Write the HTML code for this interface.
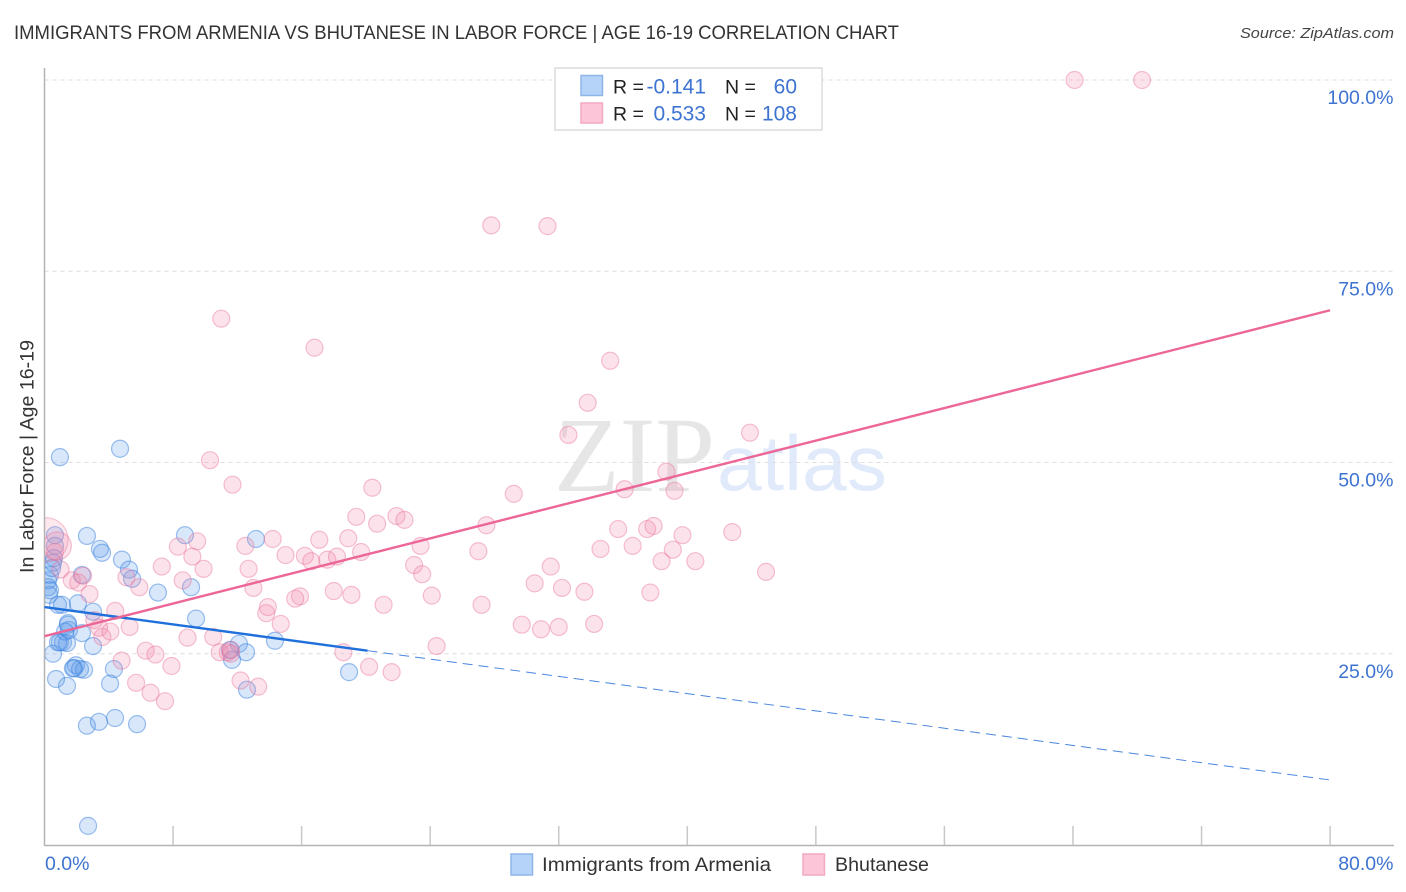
<!DOCTYPE html>
<html lang="en">
<head>
<meta charset="utf-8">
<title>Immigrants from Armenia vs Bhutanese in Labor Force | Age 16-19 Correlation Chart</title>
<style>
html,body{margin:0;padding:0;background:#fff;width:1406px;height:892px;overflow:hidden}
svg{display:block;font-family:"Liberation Sans",sans-serif}
</style>
</head>
<body>
<svg id="chart" xmlns="http://www.w3.org/2000/svg" width="1406" height="892" viewBox="0 0 1406 892">
  <defs><clipPath id="plot-clip"><rect x="45" y="60" width="1350" height="785"/></clipPath></defs>
  <rect x="0" y="0" width="1406" height="892" fill="#fff"/>
  <text x="14" y="39" font-size="19.5" fill="#333" textLength="885" lengthAdjust="spacingAndGlyphs">IMMIGRANTS FROM ARMENIA VS BHUTANESE IN LABOR FORCE | AGE 16-19 CORRELATION CHART</text>
  <text x="1394" y="38" font-size="15" font-style="italic" fill="#444" text-anchor="end" textLength="154" lengthAdjust="spacingAndGlyphs">Source: ZipAtlas.com</text>
  <g>
    <text x="554" y="491" font-family="'Liberation Serif',serif" font-size="107" fill="#e6e6e6" textLength="161" lengthAdjust="spacingAndGlyphs">ZIP</text>
    <text x="717" y="490" font-size="78" fill="#e0eafa" textLength="170" lengthAdjust="spacingAndGlyphs">atlas</text>
  </g>
  <g id="grid"></g>
  <g id="axes"></g>
  <g id="armenia-points" clip-path="url(#plot-clip)"></g>
  <g id="bhutanese-points" clip-path="url(#plot-clip)"></g>
  <g id="trends"></g>
  <g id="ticklabels"></g>
  <g>
    <rect x="555" y="68" width="267" height="62" fill="#fff" stroke="#dcdcdc" stroke-width="1.5"/>
    <rect x="581" y="75.5" width="21.5" height="20" fill="#b5d2f8" stroke="#8fb5e8" stroke-width="1.5"/>
    <rect x="581" y="103" width="21.5" height="20" fill="#fcc5d8" stroke="#f2a9c2" stroke-width="1.5"/>
    <text x="613" y="93.5" font-size="19.5" fill="#222">R =</text>
    <text x="706" y="93.5" font-size="21" fill="#3d73d1" text-anchor="end">-0.141</text>
    <text x="725" y="93.5" font-size="19.5" fill="#222">N =</text>
    <text x="797" y="93.5" font-size="21" fill="#3d73d1" text-anchor="end">60</text>
    <text x="613" y="120.5" font-size="19.5" fill="#222">R =</text>
    <text x="706" y="120.5" font-size="21" fill="#3d73d1" text-anchor="end">0.533</text>
    <text x="725" y="120.5" font-size="19.5" fill="#222">N =</text>
    <text x="797" y="120.5" font-size="21" fill="#3d73d1" text-anchor="end">108</text>
  </g>
  <g>
    <rect x="511" y="854" width="21.5" height="21" fill="#b5d2f8" stroke="#8fb5e8" stroke-width="1.5"/>
    <text x="542" y="871" font-size="19.5" fill="#333" textLength="229" lengthAdjust="spacingAndGlyphs">Immigrants from Armenia</text>
    <rect x="803" y="854" width="21.5" height="21" fill="#fcc5d8" stroke="#f2a9c2" stroke-width="1.5"/>
    <text x="835" y="871" font-size="19.5" fill="#333" textLength="94" lengthAdjust="spacingAndGlyphs">Bhutanese</text>
  </g>
  <text transform="translate(33.5 456.5) rotate(-90)" font-size="19.5" fill="#333" text-anchor="middle" textLength="233" lengthAdjust="spacingAndGlyphs">In Labor Force | Age 16-19</text>
</svg>
<script>
const armeniaX = [0.96,4.70,2.64,8.74,13.16,3.45,3.58,4.82,5.26,5.45,7.06,9.12,9.43,14.34,2.33,2.08,3.02,1.09,1.46,1.52,2.33,1.15,1.40,0.96,3.02,0.53,1.96,1.84,2.21,2.46,4.32,0.72,1.40,4.08,2.64,3.39,4.39,5.76,2.71,12.1,11.54,12.54,11.67,12.6,18.95,0.65,0.65,0.59,0.53,0.34,0.22,0.22,0.28,0.84,1.46,1.28,0.84,1.77,0.47,0.34];
const armeniaY = [50.7,51.8,40.4,40.5,40.0,38.7,38.2,37.3,36.0,34.8,33.0,33.7,29.6,26.7,35.3,31.6,30.5,31.4,29.0,28.1,27.7,26.5,26.4,26.5,26.0,25.0,23.5,23.1,23.0,22.9,23.0,21.7,20.8,21.1,15.6,16.1,16.6,15.8,2.5,26.3,25.5,25.2,24.2,20.3,22.6,40.5,39.1,37.5,36.9,35.3,34.6,33.7,32.7,31.4,28.8,27.9,26.5,23.1,36.2,33.3];
const bhutaneseX = [64.1,68.3,27.8,31.3,11.0,16.8,35.2,33.8,32.6,43.9,10.3,11.7,20.4,29.2,36.1,38.7,39.2,19.4,21.9,22.4,20.7,27.5,35.7,37.5,37.9,42.8,39.7,14.2,17.1,18.9,9.5,8.3,12.5,23.4,27.0,34.6,36.6,39.1,38.4,40.5,15.0,16.2,16.6,17.6,18.2,19.7,9.2,9.9,7.3,12.7,23.0,23.5,31.5,8.6,5.1,5.9,13.0,15.9,15.6,18.0,19.1,24.1,30.5,32.2,33.6,37.7,44.9,21.1,27.2,13.9,13.8,14.7,4.4,29.7,30.9,32.0,34.2,8.9,10.5,24.4,18.6,6.3,6.9,7.9,4.8,10.9,11.4,20.2,21.6,12.2,13.3,5.7,6.6,7.5,11.6,11.6,0.65,1.0,1.7,2.1,2.4,2.8,3.1,3.4,3.6,4.1,5.3];
const bhutaneseY = [100,100,81.0,80.9,68.8,65.0,63.3,57.8,53.6,53.9,50.3,47.1,46.7,45.9,46.5,48.8,46.3,42.9,43.0,42.5,42.0,41.8,41.3,41.3,41.7,40.9,40.5,40.0,39.9,40.1,39.7,39.0,39.1,39.1,38.4,38.7,39.1,38.6,37.1,37.1,37.9,37.8,37.1,37.3,37.7,38.3,37.7,36.1,36.4,36.1,36.6,35.4,36.4,34.6,35.0,33.7,33.6,32.5,32.2,33.2,32.7,32.6,34.2,33.6,33.1,33.0,35.7,31.4,31.4,31.1,30.3,28.9,30.6,28.8,28.2,28.5,28.9,27.1,27.2,26.0,25.2,25.4,24.9,23.4,24.1,25.2,25.2,23.3,22.6,21.5,20.7,21.2,19.9,18.8,25.5,25.0,38.3,36.0,34.6,34.3,35.2,32.8,29.4,28.4,27.2,27.9,28.5];
const bhutaneseLargeX = [0.1];
const bhutaneseLargeY = [39.9];
const bhutaneseMediumX = [0.8];
const bhutaneseMediumY = [39.1];
const armeniaTrendX = [0, 20.1];
const armeniaTrendY = [31.1, 25.4];
const armeniaDashX = [20.1, 80];
const armeniaDashY = [25.4, 8.5];
const bhutaneseTrendX = [0, 80];
const bhutaneseTrendY = [27.3, 69.9];
const yTicks = [100, 75, 50, 25];
const yTickLabels = ['100.0%', '75.0%', '50.0%', '25.0%'];
const xTicks = [8, 16, 24, 32, 40, 48, 56, 64, 72, 80];
const xEndLabels = ['0.0%', '80.0%'];

const NS = 'http://www.w3.org/2000/svg';
const xScale = v => 44.5 + v * 16.07;
const yScale = v => 80 + (100 - v) * 7.65;
function make(tag, parent, attrs) {
  const el = document.createElementNS(NS, tag);
  for (const k in attrs) el.setAttribute(k, attrs[k]);
  document.getElementById(parent).appendChild(el);
  return el;
}

yTicks.forEach(function (t) {
  const el = make('line', 'grid', {x1: 44.5, x2: 1393, y1: yScale(t), y2: yScale(t), stroke: '#dedede', 'stroke-width': 1, 'stroke-dasharray': '4 4'});
  
  
});

const yAxisLine = make('line', 'axes', {x1: 44.5, x2: 44.5, y1: 68, y2: 845.5, stroke: '#b4b4b4', 'stroke-width': 1.5});


const xAxisLine = make('line', 'axes', {x1: 44, x2: 1394, y1: 845.5, y2: 845.5, stroke: '#b4b4b4', 'stroke-width': 1.5});


xTicks.forEach(function (t) {
  const el = make('line', 'axes', {x1: xScale(t), x2: xScale(t), y1: 826, y2: 845, stroke: '#c8c8c8', 'stroke-width': 1.5});
  
  
});

armeniaX.forEach(function (x, i) {
  const el = make('circle', 'armenia-points', {cx: xScale(x), cy: yScale(armeniaY[i]), r: 8.5, fill: 'rgba(91,155,234,.24)', stroke: 'rgba(60,130,222,.5)', 'stroke-width': 1.2});
  
  
});
bhutaneseX.forEach(function (x, i) {
  const el = make('circle', 'bhutanese-points', {cx: xScale(x), cy: yScale(bhutaneseY[i]), r: 8.5, fill: 'rgba(243,140,170,.24)', stroke: 'rgba(232,110,150,.42)', 'stroke-width': 1.2});
  
  
});
bhutaneseMediumX.forEach(function (x, i) {
  const el = make('circle', 'bhutanese-points', {cx: xScale(x), cy: yScale(bhutaneseMediumY[i]), r: 14, fill: 'rgba(243,140,170,.24)', stroke: 'rgba(232,110,150,.42)', 'stroke-width': 1.2});
  
  
});
bhutaneseLargeX.forEach(function (x, i) {
  const el = make('circle', 'bhutanese-points', {cx: xScale(x), cy: yScale(bhutaneseLargeY[i]), r: 22, fill: 'rgba(243,140,170,.2)', stroke: 'rgba(232,110,150,.35)', 'stroke-width': 1.2});
  
  
});

const dash = make('line', 'trends', {x1: xScale(armeniaDashX[0]), y1: yScale(armeniaDashY[0]), x2: xScale(armeniaDashX[1]), y2: yScale(armeniaDashY[1]), stroke: '#4a86dc', 'stroke-width': 1, 'stroke-dasharray': '10 6'});


const blueTrend = make('line', 'trends', {x1: xScale(armeniaTrendX[0]), y1: yScale(armeniaTrendY[0]), x2: xScale(armeniaTrendX[1]), y2: yScale(armeniaTrendY[1]), stroke: '#2070dc', 'stroke-width': 2.4});


const pinkTrend = make('line', 'trends', {x1: xScale(bhutaneseTrendX[0]), y1: yScale(bhutaneseTrendY[0]), x2: xScale(bhutaneseTrendX[1]), y2: yScale(bhutaneseTrendY[1]), stroke: '#ec6797', 'stroke-width': 2.4});



yTicks.forEach(function (t, i) {
  const el = make('text', 'ticklabels', {x: 1393.5, y: yScale(t) + 24, 'font-size': 19.5, fill: '#3d73d1', 'text-anchor': 'end'});
  el.textContent = yTickLabels[i];
  
  
});
const xStart = make('text', 'ticklabels', {x: 45, y: 870, 'font-size': 19.5, fill: '#3d73d1'});
xStart.textContent = xEndLabels[0];


const xEnd = make('text', 'ticklabels', {x: 1393.5, y: 870, 'font-size': 19.5, fill: '#3d73d1', 'text-anchor': 'end'});
xEnd.textContent = xEndLabels[1];


</script>
</body>
</html>
